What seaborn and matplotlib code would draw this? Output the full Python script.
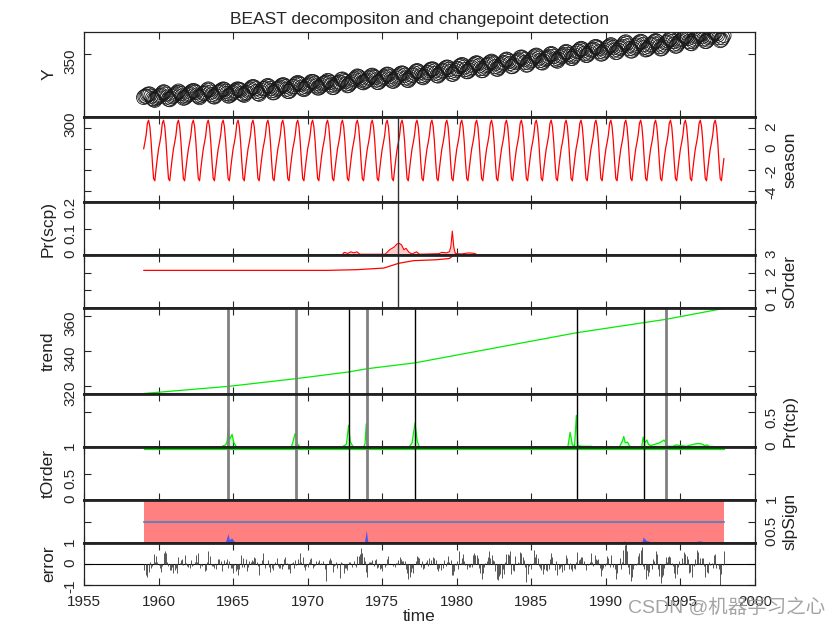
import numpy as np
import matplotlib
matplotlib.use('Agg')
import matplotlib.pyplot as plt
import seaborn as sns

# Mauna Loa monthly CO2 (ppm), Jan 1959 - Dec 1997
co2_rows = [
    [315.42, 316.31, 316.50, 317.56, 318.13, 318.00, 316.39, 314.65, 313.68, 313.18, 314.66, 315.43],
    [316.27, 316.81, 317.42, 318.87, 319.87, 319.43, 318.01, 315.74, 314.00, 313.68, 314.84, 316.03],
    [316.73, 317.54, 318.38, 319.31, 320.42, 319.61, 318.42, 316.63, 314.83, 315.16, 315.94, 316.85],
    [317.78, 318.40, 319.53, 320.42, 320.85, 320.45, 319.45, 317.25, 316.11, 315.27, 316.53, 317.53],
    [318.58, 318.92, 319.70, 321.22, 322.08, 321.31, 319.58, 317.61, 316.05, 315.83, 316.91, 318.20],
    [319.41, 320.07, 320.74, 321.40, 322.06, 321.73, 320.27, 318.54, 316.54, 316.71, 317.53, 318.55],
    [319.27, 320.28, 320.73, 321.97, 322.00, 321.71, 321.05, 318.71, 317.66, 317.14, 318.70, 319.25],
    [320.46, 321.43, 322.23, 323.54, 323.91, 323.59, 322.24, 320.20, 318.48, 317.94, 319.63, 320.87],
    [322.17, 322.34, 322.88, 324.25, 324.83, 323.93, 322.38, 320.76, 319.10, 319.24, 320.56, 321.80],
    [322.40, 322.99, 323.73, 324.86, 325.40, 325.20, 323.98, 321.95, 320.18, 320.09, 321.16, 322.74],
    [323.83, 324.26, 325.47, 326.50, 327.21, 326.54, 325.72, 323.50, 322.22, 321.62, 322.69, 323.95],
    [324.89, 325.82, 326.77, 327.97, 327.91, 327.50, 326.18, 324.53, 322.93, 322.90, 323.85, 324.96],
    [326.01, 326.51, 327.01, 327.62, 328.76, 328.40, 327.20, 325.27, 323.20, 323.40, 324.63, 325.85],
    [326.60, 327.47, 327.58, 329.56, 329.90, 328.92, 327.88, 326.16, 324.68, 325.04, 326.34, 327.39],
    [328.37, 329.40, 330.14, 331.33, 332.31, 331.90, 330.70, 329.15, 327.35, 327.02, 327.99, 328.48],
    [329.18, 330.55, 331.32, 332.48, 332.92, 332.08, 331.01, 329.23, 327.27, 327.21, 328.29, 329.41],
    [330.23, 331.25, 331.87, 333.14, 333.80, 333.43, 331.73, 329.90, 328.40, 328.17, 329.32, 330.59],
    [331.58, 332.39, 333.33, 334.41, 334.71, 334.17, 332.89, 330.77, 329.14, 328.78, 330.14, 331.52],
    [332.75, 333.24, 334.53, 335.90, 336.57, 336.10, 334.76, 332.59, 331.42, 330.98, 332.24, 333.68],
    [334.80, 335.22, 336.47, 337.59, 337.84, 337.72, 336.37, 334.51, 332.60, 332.38, 333.75, 334.78],
    [336.05, 336.59, 337.79, 338.71, 339.30, 339.12, 337.56, 335.92, 333.75, 333.70, 335.12, 336.56],
    [337.84, 338.19, 339.91, 340.60, 341.29, 341.00, 339.39, 337.43, 335.72, 335.84, 336.93, 338.04],
    [339.06, 340.30, 341.21, 342.33, 342.74, 342.08, 340.32, 338.26, 336.52, 336.68, 338.19, 339.44],
    [340.57, 341.44, 342.53, 343.39, 343.96, 343.18, 341.88, 339.65, 337.81, 337.69, 339.09, 340.32],
    [341.20, 342.35, 342.93, 344.77, 345.58, 345.14, 343.81, 342.21, 339.69, 339.82, 340.98, 342.82],
    [343.52, 344.33, 345.11, 346.88, 347.25, 346.62, 345.22, 343.11, 340.90, 341.18, 342.80, 344.04],
    [344.79, 345.82, 347.25, 348.17, 348.74, 348.07, 346.38, 344.51, 342.92, 342.62, 344.06, 345.38],
    [346.11, 346.78, 347.68, 349.37, 350.03, 349.37, 347.76, 345.73, 344.68, 343.99, 345.48, 346.72],
    [347.84, 348.29, 349.23, 350.80, 351.66, 351.07, 349.33, 347.92, 346.27, 346.18, 347.64, 348.78],
    [350.25, 351.54, 352.05, 353.41, 354.04, 353.62, 352.22, 350.27, 348.55, 348.72, 349.91, 351.18],
    [352.60, 352.92, 353.53, 355.26, 355.52, 354.97, 353.75, 351.52, 349.64, 349.83, 351.14, 352.37],
    [353.50, 354.55, 355.23, 356.04, 357.00, 356.07, 354.67, 352.76, 350.82, 351.04, 352.69, 354.07],
    [354.59, 355.63, 357.03, 358.48, 359.22, 358.12, 356.06, 353.92, 352.05, 352.11, 353.64, 354.89],
    [355.88, 356.63, 357.72, 359.07, 359.58, 359.17, 356.94, 354.92, 352.94, 353.23, 354.09, 355.33],
    [356.63, 357.10, 358.32, 359.41, 360.23, 359.55, 357.53, 355.48, 353.67, 353.95, 355.30, 356.78],
    [358.34, 358.89, 359.95, 361.25, 361.67, 360.94, 359.55, 357.49, 355.84, 356.00, 357.59, 359.05],
    [359.98, 361.03, 361.66, 363.48, 363.82, 363.30, 361.94, 359.50, 358.11, 357.80, 359.61, 360.74],
    [362.09, 363.29, 364.06, 364.76, 365.45, 365.01, 363.70, 361.54, 359.51, 359.65, 360.80, 362.38],
    [363.23, 364.06, 364.61, 366.40, 366.84, 365.68, 364.52, 362.57, 360.24, 360.83, 362.49, 364.34],
]
first_year = 1959

# seasonal component (one year, Jan..Dec)
season_profile = [0.0, 0.6, 1.3, 2.4, 2.7, 2.1, 0.7, -1.2, -2.8, -3.0, -1.9, -0.9]

# trend line, read at the detected trend changepoints
trend_years = [1959.0, 1964.7, 1969.2, 1972.77, 1973.96, 1977.2, 1988.04, 1992.55, 1994.03, 1997.92]
trend_vals = [315.7, 319.8, 324.2, 328.1, 329.9, 333.3, 350.6, 356.4, 358.3, 364.6]

# trend changepoints (gray = thick, black = thin)
tcp_gray = [1964.68, 1969.2, 1973.95, 1994.03]
tcp_black = [1972.78, 1977.22, 1988.05, 1992.55]
scp_year = 1976.05

# probability of a trend changepoint
ptcp_years = [1959.0, 1964.2, 1964.35, 1964.5, 1964.6, 1964.66, 1964.75, 1964.93, 1965.05, 1965.2, 1965.35,
              1968.9, 1969.0, 1969.15, 1969.3, 1969.45, 1969.6,
              1972.3, 1972.45, 1972.6, 1972.75, 1972.85, 1973.0, 1973.1,
              1973.75, 1973.85, 1973.93, 1974.0, 1974.1,
              1976.8, 1977.0, 1977.2, 1977.35, 1977.5,
              1987.45, 1987.6, 1987.75, 1987.9, 1988.02, 1988.12, 1988.4, 1989.0, 1989.2,
              1990.9, 1991.1, 1991.2, 1991.3, 1991.45, 1991.6, 1991.8,
              1992.4, 1992.5, 1992.6, 1992.75, 1992.85, 1993.0, 1993.3, 1993.6, 1993.9, 1994.0, 1994.1,
              1994.5, 1994.7, 1995.0, 1995.4, 1995.9, 1996.2, 1996.5, 1996.6, 1996.8, 1996.9, 1997.92]
ptcp_vals = [0, 0, 0.02, 0.03, 0.08, 0.24, 0.10, 0.18, 0.06, 0.01, 0,
             0, 0.06, 0.19, 0.05, 0.01, 0,
             0, 0.02, 0.04, 0.31, 0.08, 0.02, 0,
             0, 0.05, 0.33, 0.06, 0,
             0, 0.06, 0.34, 0.08, 0,
             0, 0.21, 0.03, 0.02, 0.45, 0.02, 0.01, 0.01, 0,
             0, 0.08, 0.15, 0.06, 0.07, 0.01, 0,
             0, 0.14, 0.06, 0.10, 0.04, 0.02, 0.04, 0.06, 0.10, 0.07, 0.01,
             0.01, 0.03, 0.02, 0.01, 0.04, 0.05, 0.04, 0.02, 0.03, 0.01, 0]

# probability of a seasonal changepoint
pscp_years = [1959.0, 1972.3, 1972.45, 1972.7, 1972.9, 1973.1, 1973.3, 1973.5, 1975.2, 1975.5, 1975.8,
              1976.0, 1976.15, 1976.3, 1976.45, 1976.6, 1976.8, 1977.0, 1977.3, 1977.5, 1978.8, 1979.0,
              1979.3, 1979.5, 1979.6, 1979.7, 1979.8, 1979.9, 1980.3, 1980.8, 1981.2, 1981.4, 1997.92]
pscp_vals = [0, 0, 0.010, 0.006, 0.012, 0.008, 0.012, 0.003, 0.003, 0.020, 0.030,
             0.042, 0.044, 0.038, 0.020, 0.025, 0.010, 0.004, 0.012, 0.003, 0.005, 0.010,
             0.008, 0.012, 0.030, 0.090, 0.030, 0.006, 0.004, 0.008, 0.006, 0, 0]

# mean harmonic order of the season
sorder_years = [1959.0, 1971.3, 1973.3, 1975.1, 1976.1, 1977.1, 1978.6, 1979.5, 1979.8, 1997.92]
sorder_vals = [2.13, 2.13, 2.17, 2.26, 2.53, 2.68, 2.73, 2.80, 3.0, 3.0]

# mean polynomial order of the trend
torder_years = [1959.0, 1997.92]
torder_vals = [0.955, 0.955]

# slope sign: probability of zero slope (blue)
pzero_years = [1959.0, 1964.3, 1964.5, 1964.65, 1964.75, 1964.9, 1965.1, 1965.3, 1972.1, 1972.3, 1972.5,
               1973.8, 1973.93, 1974.05, 1991.0, 1991.2, 1991.4, 1992.4, 1992.5, 1992.7, 1993.0, 1993.3,
               1995.8, 1996.1, 1996.3, 1996.7, 1997.0, 1997.92]
pzero_vals = [0, 0, 0.04, 0.22, 0.08, 0.12, 0.03, 0, 0, 0.03, 0,
              0, 0.30, 0, 0, 0.05, 0, 0, 0.14, 0.06, 0.03, 0,
              0, 0.04, 0.05, 0.02, 0, 0]

co2_table = np.array(co2_rows)
co2 = co2_table.ravel()
t = first_year + np.arange(co2.size) / 12.0
t_end = t[-1]
season = np.tile(season_profile, len(co2_rows))

# residual against the yearly level of the record (mid-year)
level_years = np.r_[t[0], first_year + np.arange(len(co2_rows)) + 5.5 / 12, t_end]
level_vals = np.r_[trend_vals[0], co2_table.mean(axis=1), trend_vals[-1]]
error = co2 - np.interp(t, level_years, level_vals) - season

sns.set_style('ticks')
plt.rcParams['font.family'] = ['Liberation Sans', 'Noto Sans CJK SC']
plt.rcParams['axes.unicode_minus'] = False

fig, axes = plt.subplots(9, 1, sharex=True, figsize=(8.4, 6.3), dpi=100,
                         gridspec_kw={'height_ratios': [85, 85, 53, 53, 86, 53, 53, 43, 42]})
fig.subplots_adjust(left=0.1, right=0.8988, top=0.9492, bottom=0.0714, hspace=0)
ax_y, ax_s, ax_ps, ax_so, ax_t, ax_pt, ax_to, ax_sl, ax_e = axes

# Y
sns.scatterplot(x=t, y=co2, ax=ax_y, s=105, marker='o', facecolors='none',
                edgecolor='#1a1a1a', linewidth=0.6)
ax_y.set_ylim(300, 367)
ax_y.set_yticks([300, 350])
ax_y.set_ylabel('Y')

# season
sns.lineplot(x=t, y=season, ax=ax_s, color='red', linewidth=0.9, estimator=None)
ax_s.set_ylim(-5, 3)
ax_s.set_yticks([-4, -2, 0, 2])
ax_s.set_ylabel('season')

# Pr(scp)
ax_ps.fill_between(pscp_years, pscp_vals, color='red', alpha=0.2, linewidth=0)
sns.lineplot(x=pscp_years, y=pscp_vals, ax=ax_ps, color='red', linewidth=0.8, estimator=None)
ax_ps.set_ylim(0, 0.2)
ax_ps.set_yticks([0, 0.1, 0.2])
ax_ps.set_yticklabels(['0', '0.1', '0.2'])
ax_ps.set_ylabel('Pr(scp)')

# sOrder
sns.lineplot(x=sorder_years, y=sorder_vals, ax=ax_so, color='red', linewidth=0.9, estimator=None)
ax_so.set_ylim(0, 3)
ax_so.set_yticks([0, 1, 2, 3])
ax_so.set_ylabel('sOrder')

# trend
sns.lineplot(x=trend_years, y=trend_vals, ax=ax_t, color='#00ee00', linewidth=0.9, estimator=None)
ax_t.set_ylim(315.4, 364.8)
ax_t.set_yticks([320, 340, 360])
ax_t.set_ylabel('trend')

# Pr(tcp)
ax_pt.fill_between(ptcp_years, ptcp_vals, color='#00ff00', alpha=0.2, linewidth=0)
sns.lineplot(x=ptcp_years, y=ptcp_vals, ax=ax_pt, color='#00ee00', linewidth=0.9, estimator=None)
ax_pt.set_ylim(0, 0.755)
ax_pt.set_yticks([0, 0.5])
ax_pt.set_yticklabels(['0', '0.5'])
ax_pt.set_ylabel('Pr(tcp)')

# tOrder
sns.lineplot(x=torder_years, y=torder_vals, ax=ax_to, color='#00ee00', linewidth=0.9, estimator=None)
ax_to.set_ylim(0, 1.0)
ax_to.set_yticks([0, 0.5, 1])
ax_to.set_yticklabels(['0', '0.5', '1'])
ax_to.set_ylabel('tOrder')

# slpSign
ax_sl.fill_between([t[0], t_end], 0, 1, color='#ff8080', linewidth=0)
ax_sl.fill_between(pzero_years, pzero_vals, color='#3050ff', alpha=0.85, linewidth=0)
ax_sl.plot([t[0], t_end], [0.5, 0.5], color='#6c7eb4', linewidth=1.5)
ax_sl.set_ylim(0, 1)
ax_sl.set_yticks([0, 0.5, 1])
ax_sl.set_yticklabels(['0', '0.5', '1'])
ax_sl.set_ylabel('slpSign')

# error
ax_e.axhline(0, color='black', linewidth=0.8)
ax_e.vlines(t, 0, error, color='#555555', linewidth=0.7)
ax_e.set_ylim(-1, 1)
ax_e.set_yticks([-1, 0, 1])
ax_e.set_ylabel('error')

# changepoint lines
for ax in [ax_s, ax_ps, ax_so]:
    ax.axvline(scp_year, color='#333333', linewidth=1.0)
for ax in [ax_t, ax_pt, ax_to]:
    for x in tcp_gray:
        ax.axvline(x, color='#808080', linewidth=2.0)
    for x in tcp_black:
        ax.axvline(x, color='black', linewidth=1.0)

right_side = [ax_s, ax_so, ax_pt, ax_sl]
for i, ax in enumerate(axes):
    ax.set_xlim(1955, 2000)
    ax.tick_params(axis='both', direction='in', length=5, width=0.8, labelsize=11,
                   top=True, bottom=True, left=True, right=True)
    ax.tick_params(axis='y', labelrotation=90)
    for sp in ax.spines.values():
        sp.set_visible(True)
        sp.set_linewidth(0.9)
        sp.set_color('#222222')
    if i > 0:
        ax.spines['top'].set_linewidth(2.0)
    if i < len(axes) - 1:
        ax.spines['bottom'].set_linewidth(2.0)
    if ax in right_side:
        ax.tick_params(axis='y', labelleft=False, labelright=True, pad=7)
        ax.yaxis.set_label_position('right')
        ax.set_ylabel(ax.get_ylabel(), fontsize=12.5, labelpad=3)
    else:
        ax.tick_params(axis='y', pad=5)
        ax.set_ylabel(ax.get_ylabel(), fontsize=12.5, labelpad=5)
    ax.yaxis.label.set_color('#222222')

ax_e.set_xticks(range(1955, 2001, 5))
ax_e.tick_params(axis='x', pad=7)
ax_e.set_xlabel('time', fontsize=12.5, labelpad=0)
ax_y.set_title('BEAST decompositon and changepoint detection', fontsize=12.5, pad=6)

fig.text(0.982, 0.035, 'CSDN @机器学习之心', ha='right', va='center', fontsize=14,
         color='#9a9a9a', alpha=0.9)

fig.savefig('out.png', dpi=100)
